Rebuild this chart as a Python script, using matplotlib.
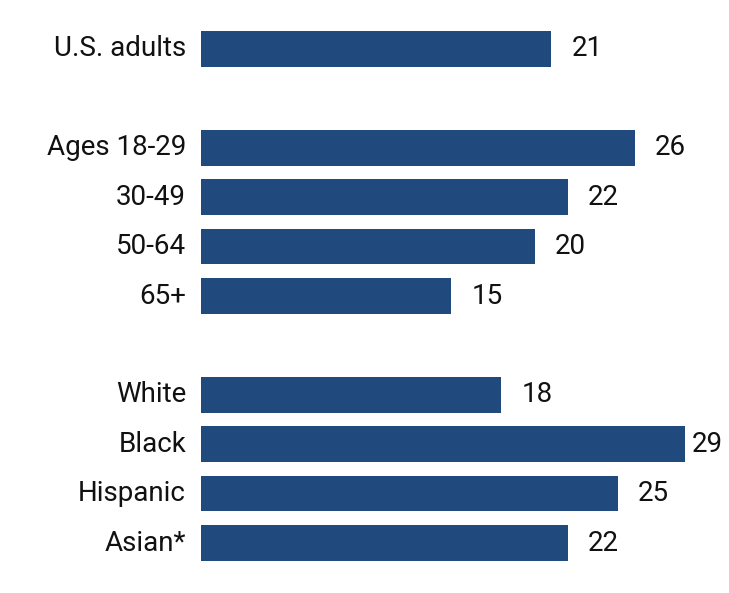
import matplotlib
matplotlib.use("Agg")
import matplotlib.pyplot as plt

categories = ["U.S. adults", "Ages 18-29", "30-49", "50-64", "65+", "White", "Black", "Hispanic", "Asian*"]
values = [21, 26, 22, 20, 15, 18, 29, 25, 22]
slots = [0, 2, 3, 4, 5, 7, 8, 9, 10]

plt.rcParams['font.family'] = ['Roboto', 'DejaVu Sans']
fig = plt.figure(figsize=(7.29, 5.93), dpi=100)
ax = fig.add_axes([201/729, 0, 1 - 201/729, 1])
color = "#20497D"
ax.barh(slots, values, height=0.72, color=color)
px_per_unit = (685 - 201) / 29
ax.set_xlim(0, (729 - 201) / px_per_unit)
ax.set_ylim(11.01, -0.99)
fs = 20
fig.canvas.draw()
renderer = fig.canvas.get_renderer()
limit_units = (723 - 201) / px_per_unit
for s, v, c in zip(slots, values, categories):
    t = ax.text(v + 20 / px_per_unit, s, str(v), va="center", ha="left", fontsize=fs, color="#111111")
    bb = t.get_window_extent(renderer=renderer)
    w_units = bb.width / px_per_unit
    if v + 20 / px_per_unit + w_units > limit_units:
        t.set_x(limit_units - w_units)
    ax.text(-15 / px_per_unit, s, c, va="center", ha="right", fontsize=fs, color="#111111")
ax.axis("off")
fig.savefig("out.png", dpi=100)
